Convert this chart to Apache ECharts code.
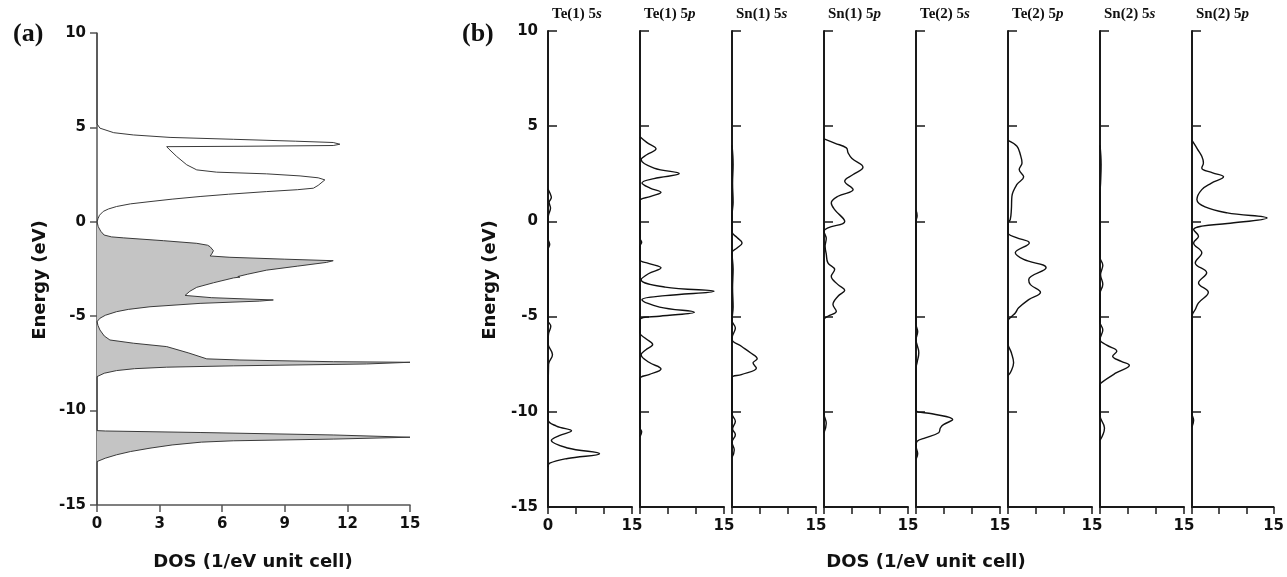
<!DOCTYPE html>
<html><head><meta charset="utf-8">
<script src="https://cdn.jsdelivr.net/npm/echarts@6/dist/echarts.min.js"></script>
<style>html,body{margin:0;padding:0;background:#fff}#c{width:1287px;height:577px}</style>
</head><body><div id="c"></div>
<script>
// ---------- DATA: [DOS (1/eV unit cell), Energy (eV)] ----------
// Panel (a): total DOS, conduction part (unfilled)
const totalConduction = [[0,10],[0,5.19],[0.14,4.96],[0.8,4.72],[1.74,4.60],[3.5,4.47],[6.53,4.37],[9.5,4.27],[11.32,4.20],[11.64,4.11],[11.32,4.04],[7.0,4.0],[3.34,3.98],[3.45,3.85],[3.82,3.46],[4.30,3.02],[4.78,2.75],[5.73,2.63],[8.13,2.54],[9.73,2.43],[10.6,2.33],[10.92,2.22],[10.6,1.93],[10.37,1.78],[9.6,1.70],[8.13,1.60],[6.3,1.46],[4.94,1.34],[3.6,1.20],[2.54,1.07],[1.6,0.95],[0.94,0.81],[0.55,0.68],[0.30,0.55],[0.12,0.35],[0.05,0.17],[0,0]];
// Panel (a): total DOS, valence part (filled)
const totalValence = [[0,0],[0.06,-0.26],[0.18,-0.50],[0.34,-0.70],[0.7,-0.80],[1.26,-0.85],[3.18,-1.0],[4.78,-1.14],[5.30,-1.24],[5.42,-1.32],[5.58,-1.53],[5.50,-1.70],[5.42,-1.81],[6.37,-1.88],[9.0,-1.98],[11.32,-2.06],[11.0,-2.15],[9.6,-2.35],[8.13,-2.56],[7.2,-2.78],[6.75,-2.90],[6.85,-2.93],[6.55,-2.97],[5.58,-3.23],[4.78,-3.47],[4.45,-3.68],[4.22,-3.90],[5.5,-4.02],[8.45,-4.14],[7.8,-4.20],[4.94,-4.32],[2.54,-4.50],[1.5,-4.64],[0.94,-4.76],[0.40,-4.95],[0.14,-5.11],[0,-5.29],[0.05,-5.50],[0.14,-5.73],[0.35,-6.05],[0.62,-6.26],[1.74,-6.43],[3.34,-6.61],[4.4,-6.95],[5.26,-7.26],[6.85,-7.32],[11.32,-7.41],[15,-7.44],[12.92,-7.53],[6.53,-7.63],[3.34,-7.70],[1.8,-7.78],[0.94,-7.88],[0.35,-8.02],[0,-8.2],[0,-11.06],[0.4,-11.08],[4.94,-11.16],[11.32,-11.29],[15,-11.41],[11.32,-11.51],[6.53,-11.60],[5.0,-11.67],[3.6,-11.82],[2.54,-11.99],[1.6,-12.17],[0.94,-12.34],[0.4,-12.52],[0,-12.70],[0,-15]];

// Panel (b): partial DOS
const te1_5s = [[0,1.7],[0.4,1.45],[0.6,1.25],[0.2,1.0],[0.45,0.7],[0.1,0.35],[0,0.1],[0,-0.9],[0.3,-1.2],[0,-1.5],[0,-5.2],[0.5,-5.5],[0.1,-5.9],[0,-6.4],[0.8,-7.0],[0.1,-7.5],[0,-10.4],[1.5,-10.75],[4.2,-11.0],[2.0,-11.25],[0.6,-11.5],[3.5,-11.9],[9.2,-12.2],[3.5,-12.45],[0.3,-12.7],[0,-12.9]];
const te1_5p = [[0,4.45],[1.2,4.15],[2.86,3.81],[1.2,3.5],[0.2,3.25],[2.5,2.8],[7.0,2.51],[2.5,2.25],[0.35,2.02],[1.8,1.75],[3.75,1.53],[1.8,1.3],[0,1.06],[0,-0.9],[0.3,-1.1],[0,-1.3],[0,-2.0],[1.5,-2.2],[3.75,-2.44],[1.5,-2.75],[0.2,-3.06],[4.5,-3.45],[13.2,-3.67],[4.5,-3.9],[0.35,-4.11],[3.5,-4.5],[9.7,-4.77],[3.5,-4.98],[0,-5.16],[0,-5.86],[1.0,-6.15],[2.26,-6.47],[1.0,-6.75],[0.2,-7.0],[1.6,-7.4],[3.75,-7.75],[1.6,-8.05],[0,-8.27],[0,-10.85],[0.3,-11.05],[0,-11.3]];
const sn1_5s = [[0,4.0],[0.2,3.0],[0.1,2.0],[0.2,1.0],[0,0.3],[0,-0.55],[0.9,-0.85],[1.8,-1.13],[0.9,-1.4],[0,-1.65],[0.2,-2.5],[0.1,-3.5],[0.2,-4.5],[0,-5.2],[0.6,-5.6],[0.1,-6.0],[0,-6.2],[1.67,-6.56],[3.3,-6.9],[4.5,-7.22],[3.75,-7.43],[4.35,-7.70],[1.67,-8.05],[0,-8.22],[0,-10.1],[0.6,-10.5],[0.1,-10.9],[0.6,-11.2],[0,-11.6],[0.4,-12.0],[0,-12.4]];
const sn1_5p = [[0,4.33],[2.0,4.1],[4.0,3.86],[4.3,3.6],[5.0,3.3],[6.96,2.85],[5.2,2.46],[3.7,2.11],[5.2,1.67],[2.5,1.32],[1.3,0.97],[1.9,0.62],[3.7,0.0],[0.7,-0.34],[0,-0.52],[0.4,-0.9],[0.2,-1.3],[0.4,-1.7],[0.7,-2.18],[1.9,-2.53],[1.3,-2.88],[2.5,-3.32],[3.7,-3.62],[2.5,-3.93],[1.6,-4.37],[2.2,-4.72],[0.7,-4.98],[0,-5.16],[0,-10.1],[0.4,-10.6],[0,-11.1]];
const te2_5s = [[0,0.6],[0.2,0.3],[0,0],[0,-5.4],[0.3,-5.8],[0,-6.2],[0.5,-6.9],[0.2,-7.4],[0,-7.7],[0,-9.9],[2.86,-10.1],[6.55,-10.41],[4.9,-10.67],[4.35,-10.85],[4.05,-11.1],[1.67,-11.37],[0.2,-11.55],[0,-11.8],[0.3,-12.2],[0,-12.5]];
const te2_5p = [[0,4.26],[1.6,3.95],[2.2,3.51],[2.5,3.07],[2.0,2.72],[2.8,2.34],[1.6,1.94],[0.7,1.32],[0.6,0.62],[0.4,0.1],[0,-0.1],[0,-0.6],[1.5,-0.85],[3.8,-1.13],[1.3,-1.65],[2.8,-2.0],[6.8,-2.44],[3.7,-3.06],[4.0,-3.32],[5.8,-3.72],[3.7,-4.11],[1.9,-4.54],[1.3,-4.81],[0.7,-4.98],[0,-5.24],[0,-6.4],[0.6,-6.9],[1.0,-7.43],[0.5,-7.9],[0,-8.1]];
const sn2_5s = [[0,4.0],[0.2,3.0],[0.1,2.0],[0,1.5],[0,-1.9],[0.5,-2.3],[0.1,-2.8],[0.5,-3.3],[0,-3.8],[0,-5.3],[0.5,-5.7],[0,-6.2],[1.2,-6.5],[3.0,-6.82],[2.26,-7.08],[3.8,-7.35],[5.24,-7.56],[2.86,-7.96],[0.2,-8.48],[0,-8.6],[0,-10.2],[0.8,-10.85],[0,-11.5]];
const sn2_5p = [[0,4.26],[1.0,3.8],[1.8,3.42],[2.1,3.07],[1.8,2.81],[3.8,2.55],[5.8,2.34],[3.5,2.0],[1.8,1.67],[0.9,1.15],[2.4,0.76],[6.5,0.45],[13.8,0.18],[6.5,-0.11],[1.8,-0.25],[0.3,-0.43],[1.2,-0.78],[0.3,-1.13],[1.8,-1.65],[0.6,-2.18],[2.7,-2.7],[1.2,-3.23],[3.0,-3.72],[1.2,-4.28],[0.6,-4.63],[0,-4.98],[0,-10.1],[0.3,-10.45],[0,-10.8]];

const partialSeries = [te1_5s, te1_5p, sn1_5s, sn1_5p, te2_5s, te2_5p, sn2_5s, sn2_5p];
const partialLabels = [['Te(1) 5','s'],['Te(1) 5','p'],['Sn(1) 5','s'],['Sn(1) 5','p'],['Te(2) 5','s'],['Te(2) 5','p'],['Sn(2) 5','s'],['Sn(2) 5','p']];
const energyRange = {min:-15, max:10, interval:5};
const dosRangeA = {min:0, max:15, interval:3};
const dosRangeB = {min:0, max:15, interval:5};
const axisTitleX = 'DOS (1/eV unit cell)';
const axisTitleY = 'Energy (eV)';

// ---------- LAYOUT ----------
const SANS = '"DejaVu Sans", Arial, sans-serif';
const SERIF = '"Liberation Serif", "Times New Roman", serif';
const labelStyle = {fontFamily: SANS, fontWeight: 'bold', fontSize: 15, color: '#111'};
const bLeft0 = 548, bStep = 92, bWidth = 84, bTop = 31, bHeight = 476;

const grids = [{left: 97, top: 33, width: 313, height: 472}];
const xAxes = [{
  type: 'value', gridIndex: 0, min: dosRangeA.min, max: dosRangeA.max, interval: dosRangeA.interval,
  axisLine: {show: true, onZero: false, lineStyle: {color: '#555', width: 1.5}},
  axisTick: {show: true, length: 7, lineStyle: {color: '#555', width: 1.5}},
  axisLabel: Object.assign({margin: 12}, labelStyle),
  splitLine: {show: false}
}];
const yAxes = [{
  type: 'value', gridIndex: 0, min: energyRange.min, max: energyRange.max, interval: energyRange.interval,
  axisLine: {show: true, onZero: false, lineStyle: {color: '#555', width: 1.5}},
  axisTick: {show: true, length: 7, lineStyle: {color: '#555', width: 1.5}},
  axisLabel: Object.assign({margin: 11}, labelStyle),
  splitLine: {show: false}
}];
const series = [
  {
    type: 'custom', xAxisIndex: 0, yAxisIndex: 0, data: totalValence, silent: true, z: 1,
    renderItem: function (params, api) {
      if (params.dataIndex !== 0) return null;
      const pts = totalValence.map(function (p) { return api.coord(p); });
      return {type: 'polygon', shape: {points: pts}, style: {fill: '#c4c4c4', stroke: null}};
    }
  },
  {
    type: 'line', xAxisIndex: 0, yAxisIndex: 0, data: totalConduction.concat(totalValence.slice(1)),
    showSymbol: false, smooth: false, z: 3,
    lineStyle: {color: '#3a3a3a', width: 1}
  }
];
const graphics = [
  {type: 'text', x: 13, y: 34, style: {text: '(a)', font: 'bold 26px ' + SERIF, fill: '#111', verticalAlign: 'middle'}},
  {type: 'text', x: 462, y: 34, style: {text: '(b)', font: 'bold 26px ' + SERIF, fill: '#111', verticalAlign: 'middle'}},
  {type: 'text', x: 40, y: 280, rotation: Math.PI / 2, style: {text: axisTitleY, font: 'bold 18px ' + SANS, fill: '#111', align: 'center', verticalAlign: 'middle'}},
  {type: 'text', x: 490, y: 280, rotation: Math.PI / 2, style: {text: axisTitleY, font: 'bold 18px ' + SANS, fill: '#111', align: 'center', verticalAlign: 'middle'}},
  {type: 'text', x: 253, y: 562, style: {text: axisTitleX, font: 'bold 18px ' + SANS, fill: '#111', align: 'center', verticalAlign: 'middle'}},
  {type: 'text', x: 926, y: 562, style: {text: axisTitleX, font: 'bold 18px ' + SANS, fill: '#111', align: 'center', verticalAlign: 'middle'}}
];

partialSeries.forEach(function (data, i) {
  const gi = i + 1;
  const left = bLeft0 + bStep * i;
  grids.push({left: left, top: bTop, width: bWidth, height: bHeight});
  xAxes.push({
    type: 'value', gridIndex: gi, min: dosRangeB.min, max: dosRangeB.max, interval: dosRangeB.interval,
    axisLine: {show: true, onZero: false, lineStyle: {color: '#1a1a1a', width: 2}},
    axisTick: {show: true, length: 7, lineStyle: {color: '#1a1a1a', width: 1.5}},
    axisLabel: Object.assign({margin: 12, showMinLabel: true, showMaxLabel: true,
      formatter: function (v) { return (v === dosRangeB.max || (i === 0 && v === dosRangeB.min)) ? String(v) : ''; }}, labelStyle),
    splitLine: {show: false}
  });
  yAxes.push({
    type: 'value', gridIndex: gi, min: energyRange.min, max: energyRange.max, interval: energyRange.interval,
    axisLine: {show: true, onZero: false, lineStyle: {color: '#1a1a1a', width: 2}},
    axisTick: {show: true, inside: true, length: 9, lineStyle: {color: '#1a1a1a', width: 1.5}},
    axisLabel: Object.assign({show: i === 0, margin: 10}, labelStyle),
    splitLine: {show: false}
  });
  series.push({
    type: 'line', xAxisIndex: gi, yAxisIndex: gi, data: data,
    showSymbol: false, smooth: 0.4, z: 3,
    lineStyle: {color: '#111', width: 1.4}
  });
  graphics.push({
    type: 'text', x: left + 4, y: 14,
    style: {
      text: '{n|' + partialLabels[i][0] + '}{o|' + partialLabels[i][1] + '}',
      verticalAlign: 'middle', fill: '#111',
      rich: {
        n: {fontFamily: SERIF, fontWeight: 'bold', fontSize: 15, color: '#111'},
        o: {fontFamily: SERIF, fontWeight: 'bold', fontStyle: 'italic', fontSize: 15, color: '#111'}
      }
    }
  });
});

const chart = echarts.init(document.getElementById('c'), null, {renderer: 'canvas'});
chart.setOption({
  animation: false,
  backgroundColor: '#fff',
  grid: grids,
  xAxis: xAxes,
  yAxis: yAxes,
  series: series,
  graphic: graphics
});
</script>
</body></html>
